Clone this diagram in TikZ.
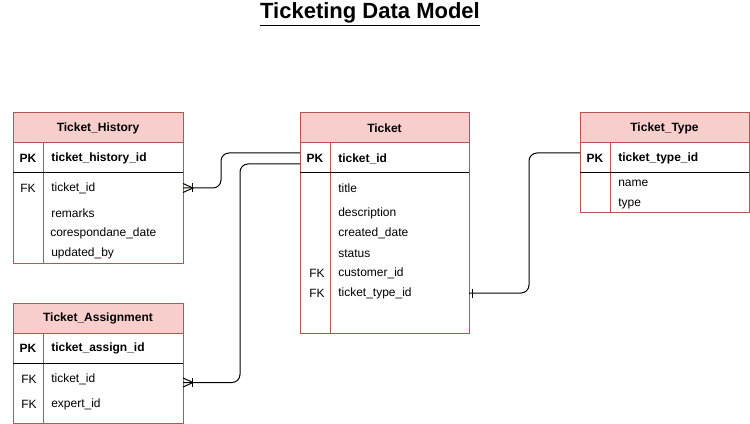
\documentclass[tikz,border=0pt]{standalone}
\usepackage{fontspec}
\setmainfont{Liberation Sans}
\definecolor{erred}{HTML}{B85450}
\definecolor{erfill}{HTML}{F8CECC}
\begin{document}
\begin{tikzpicture}[x=0.75pt,y=-0.75pt,
  tbl/.style={draw=erred, line width=0.75pt, anchor=north west, inner sep=0pt, outer sep=0pt},
  hdr/.style={fill=erfill, draw=erred, line width=0.75pt, anchor=north west, inner sep=0pt, outer sep=0pt, minimum height=22.5pt, font=\bfseries\fontsize{9}{10}\selectfont},
  fld/.style={anchor=west, inner sep=0pt, font=\fontsize{9}{10}\selectfont},
  pkf/.style={anchor=west, inner sep=0pt, font=\bfseries\fontsize{9}{10}\selectfont},
  keyl/.style={anchor=center, inner sep=0pt, font=\fontsize{9}{10}\selectfont},
  pkl/.style={anchor=center, inner sep=0pt, font=\bfseries\fontsize{9}{10}\selectfont},
  coldiv/.style={draw=erred, line width=0.75pt},
  rowdiv/.style={draw=black, line width=0.75pt},
  conn/.style={draw=black, line width=0.75pt, rounded corners=6pt},
  ermark/.style={draw=black, line width=0.75pt}
]
\useasboundingbox (0,0) rectangle (750,424);
\fill[white] (0,0) rectangle (750,424);

% title
\node[inner sep=0pt, font=\bfseries\fontsize{16.5}{19}\selectfont] (title) at (370,14) {\underline{Ticketing Data Model}};

% ---------- Ticket_History ----------
\node[tbl, minimum width=127.5pt, minimum height=112.5pt] (th) at (13,113) {};
\node[hdr, minimum width=127.5pt] (thh) at (13,113) {Ticket\_History};
\draw[coldiv] (43,143) -- (43,263);
\draw[rowdiv] (13,173) -- (183,173);
\node[pkl] (thpk) at (28,158.5) {PK};
\node[pkf] (thpkf) at (51,158.5) {ticket\_history\_id};
\node[keyl] (thfk) at (28,188.5) {FK};
\node[fld] (thf1) at (51,188.5) {ticket\_id};
\node[fld] (thf2) at (51,213.5) {remarks};
\node[fld] (thf3) at (50,233.5) {corespondane\_date};
\node[fld] (thf4) at (51,253.5) {updated\_by};

% ---------- Ticket_Assignment ----------
\node[tbl, minimum width=127.5pt, minimum height=90pt] (ta) at (13,303) {};
\node[hdr, minimum width=127.5pt] (tah) at (13,303) {Ticket\_Assignment};
\draw[coldiv] (43,333) -- (43,423);
\draw[rowdiv] (13,363) -- (183,363);
\node[pkl] (tapk) at (28,348.5) {PK};
\node[pkf] (tapkf) at (51,348.5) {ticket\_assign\_id};
\node[keyl] (tafk1) at (29,379.5) {FK};
\node[fld] (taf1) at (51,379.5) {ticket\_id};
\node[keyl] (tafk2) at (29,404.5) {FK};
\node[fld] (taf2) at (51,404.5) {expert\_id};

% ---------- Ticket ----------
\node[tbl, minimum width=126.75pt, minimum height=165pt] (tk) at (300,113) {};
\node[hdr, minimum width=126.75pt] (tkh) at (300,113) {Ticket};
\draw[coldiv] (330,143) -- (330,333);
\draw[rowdiv] (300,173) -- (469,173);
\node[pkl] (tkpk) at (315,158.5) {PK};
\node[pkf] (tkpkf) at (338,158.5) {ticket\_id};
\node[fld] (tkf1) at (338,188.5) {title};
\node[fld] (tkf2) at (338,213.5) {description};
\node[fld] (tkf3) at (338,233.5) {created\_date};
\node[fld] (tkf4) at (338,253.5) {status};
\node[keyl] (tkfk1) at (317,273.5) {FK};
\node[fld] (tkf5) at (338,273.5) {customer\_id};
\node[keyl] (tkfk2) at (317,293.5) {FK};
\node[fld] (tkf6) at (338,293.5) {ticket\_type\_id};

% ---------- Ticket_Type ----------
\node[tbl, minimum width=126.75pt, minimum height=75pt] (tt) at (580,113) {};
\node[hdr, minimum width=126.75pt] (tth) at (580,113) {Ticket\_Type};
\draw[coldiv] (610,143) -- (610,213);
\draw[rowdiv] (580,173) -- (749,173);
\node[pkl] (ttpk) at (595,158.5) {PK};
\node[pkf] (ttpkf) at (618,158.5) {ticket\_type\_id};
\node[fld] (ttf1) at (618,183.5) {name};
\node[fld] (ttf2) at (618,203.5) {type};

% ---------- connector anchor points ----------
\coordinate (thout) at (183,188);
\coordinate (taout) at (183,382.5);
\coordinate (tkin1) at (300,153);
\coordinate (tkin2) at (300,164);
\coordinate (tkout) at (469,293);
\coordinate (ttin) at (580,153);

% ---------- connectors ----------
\draw[conn] (thout) -- (221,188) -- (221,153) -- (tkin1);
\draw[conn] (taout) -- (240,382.5) -- (240,164) -- (tkin2);
\draw[conn] (tkout) -- (529,293) -- (529,153) -- (ttin);

% markers: one-to-many at Ticket_History and Ticket_Assignment
\draw[ermark] (183,183.5) -- (193,188) -- (183,192.5);
\draw[ermark] (192.5,183.5) -- (192.5,192.5);
\draw[ermark] (183,378) -- (193,382.5) -- (183,387);
\draw[ermark] (192.5,378) -- (192.5,387);
% marker: one at Ticket
\draw[ermark] (472,288.5) -- (472,297.5);
\end{tikzpicture}
\end{document}
